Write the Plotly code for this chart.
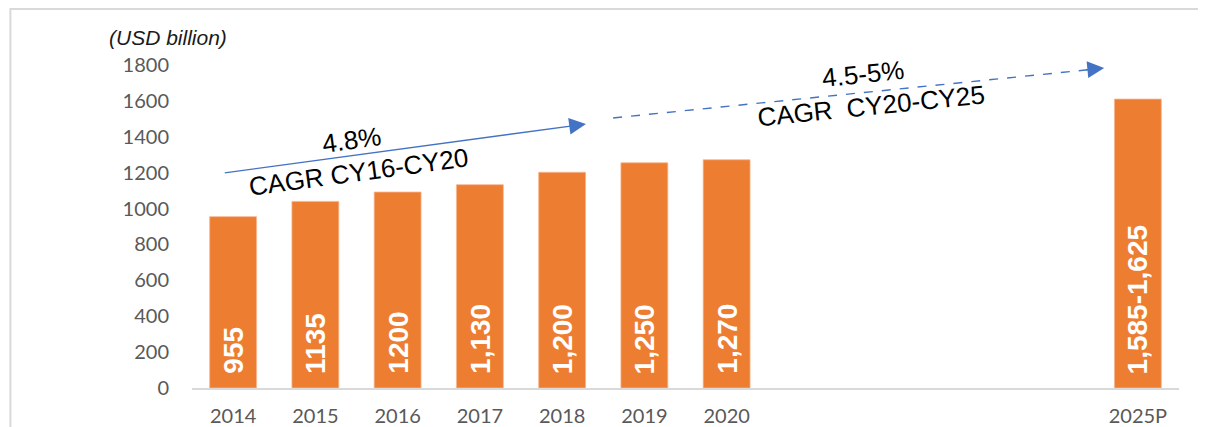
import plotly.graph_objects as go

# ---- data ----
categories = ["2014", "2015", "2016", "2017", "2018", "2019", "2020", "2021", "2022", "2023", "2024", "2025P"]
bar_years = ["2014", "2015", "2016", "2017", "2018", "2019", "2020", "2025P"]
bar_values = [955, 1040, 1092, 1133, 1202, 1255, 1272, 1610]
bar_labels = ["955", "1135", "1200", "1,130", "1,200", "1,250", "1,270", "1,585-1,625"]
y_ticks = [0, 200, 400, 600, 800, 1000, 1200, 1400, 1600, 1800]

ORANGE = "#ED7D31"
BLUE = "#4472C4"
GRAY_TXT = "#595959"
GRAY_LINE = "#D9D9D9"

fig = go.Figure()
fig.add_trace(go.Bar(
    x=bar_years, y=bar_values,
    marker=dict(color=ORANGE, line=dict(color="#F6B690", width=0.8)),
    width=0.57, hoverinfo="skip", showlegend=False,
))

annotations = []
# data labels inside bars (rotated); category index used as x position
for yr, lab in zip(bar_years, bar_labels):
    annotations.append(dict(
        x=categories.index(yr), y=0, xref="x", yref="y", text=f"<b>{lab}</b>", showarrow=False,
        textangle=-90, xanchor="center", yanchor="bottom", yshift=12,
        font=dict(family="Liberation Sans, Arial", size=28, color="white"),
    ))

# solid CAGR arrow (historical)
annotations.append(dict(
    x=4.29, y=1471, ax=-0.12, ay=1198, xref="x", yref="y", axref="x", ayref="y",
    text="", showarrow=True, arrowhead=2, arrowsize=2.4, arrowwidth=1.4, arrowcolor=BLUE,
))
# dashed arrow head (projection)
annotations.append(dict(
    x=10.59, y=1783, ax=10.35, ay=1772, xref="x", yref="y", axref="x", ayref="y",
    text="", showarrow=True, arrowhead=2, arrowsize=2.4, arrowwidth=1.4, arrowcolor=BLUE,
))

txt_font = dict(family="Liberation Sans, Arial", size=26, color="black")
annotations += [
    dict(x=1.445, y=1382, xref="x", yref="y", text="4.8%", showarrow=False, textangle=-7.7, font=txt_font),
    dict(x=1.53, y=1205, xref="x", yref="y", text="CAGR CY16-CY20", showarrow=False, textangle=-7.7, font=txt_font),
    dict(x=7.66, y=1750, xref="x", yref="y", text="4.5-5%", showarrow=False, textangle=-5.8, font=txt_font),
    dict(x=7.755, y=1571, xref="x", yref="y", text="CAGR  CY20-CY25", showarrow=False, textangle=-5.8, font=txt_font),
    dict(x=-0.0861, y=1.0836, xref="paper", yref="paper", text="<i>(USD billion)</i>", showarrow=False,
         xanchor="left", yanchor="middle", font=dict(family="Liberation Sans, Arial", size=21, color="#1a1a1a")),
]

shapes = [
    # dashed projection line
    dict(type="line", xref="x", yref="y", x0=4.62, y0=1505, x1=10.45, y1=1776,
         line=dict(color=BLUE, width=1.4, dash="dash")),
    # outer border
    dict(type="rect", xref="paper", yref="paper", x0=-0.184, x1=1.25, y0=-0.3, y1=1.1734,
         line=dict(color=GRAY_LINE, width=2), fillcolor="rgba(0,0,0,0)", layer="below"),
]

# page body has an 8px default margin; size the figure so it fits the 1206x427 window
fig.update_layout(
    width=1198, height=419, autosize=False,
    margin=dict(l=184, r=27, t=57, b=39, autoexpand=False),
    plot_bgcolor="white", paper_bgcolor="white",
    annotations=annotations, shapes=shapes,
    xaxis=dict(
        type="category", categoryorder="array", categoryarray=categories,
        range=[-0.5, len(categories) - 0.5],
        tickvals=bar_years, ticktext=bar_years,
        showline=True, linecolor=GRAY_LINE, linewidth=1.5,
        showgrid=False, zeroline=False, ticks="",
        tickfont=dict(family="Lato", size=20, color=GRAY_TXT),
        ticklabelstandoff=9, automargin=False,
    ),
    yaxis=dict(
        range=[0, 1800], tickvals=y_ticks, ticktext=[str(v) for v in y_ticks],
        showgrid=False, zeroline=False, showline=False, ticks="",
        tickfont=dict(family="Lato", size=20, color=GRAY_TXT),
        ticklabelstandoff=22, automargin=False,
    ),
    bargap=0.43,
)

fig.write_html("out.html")
